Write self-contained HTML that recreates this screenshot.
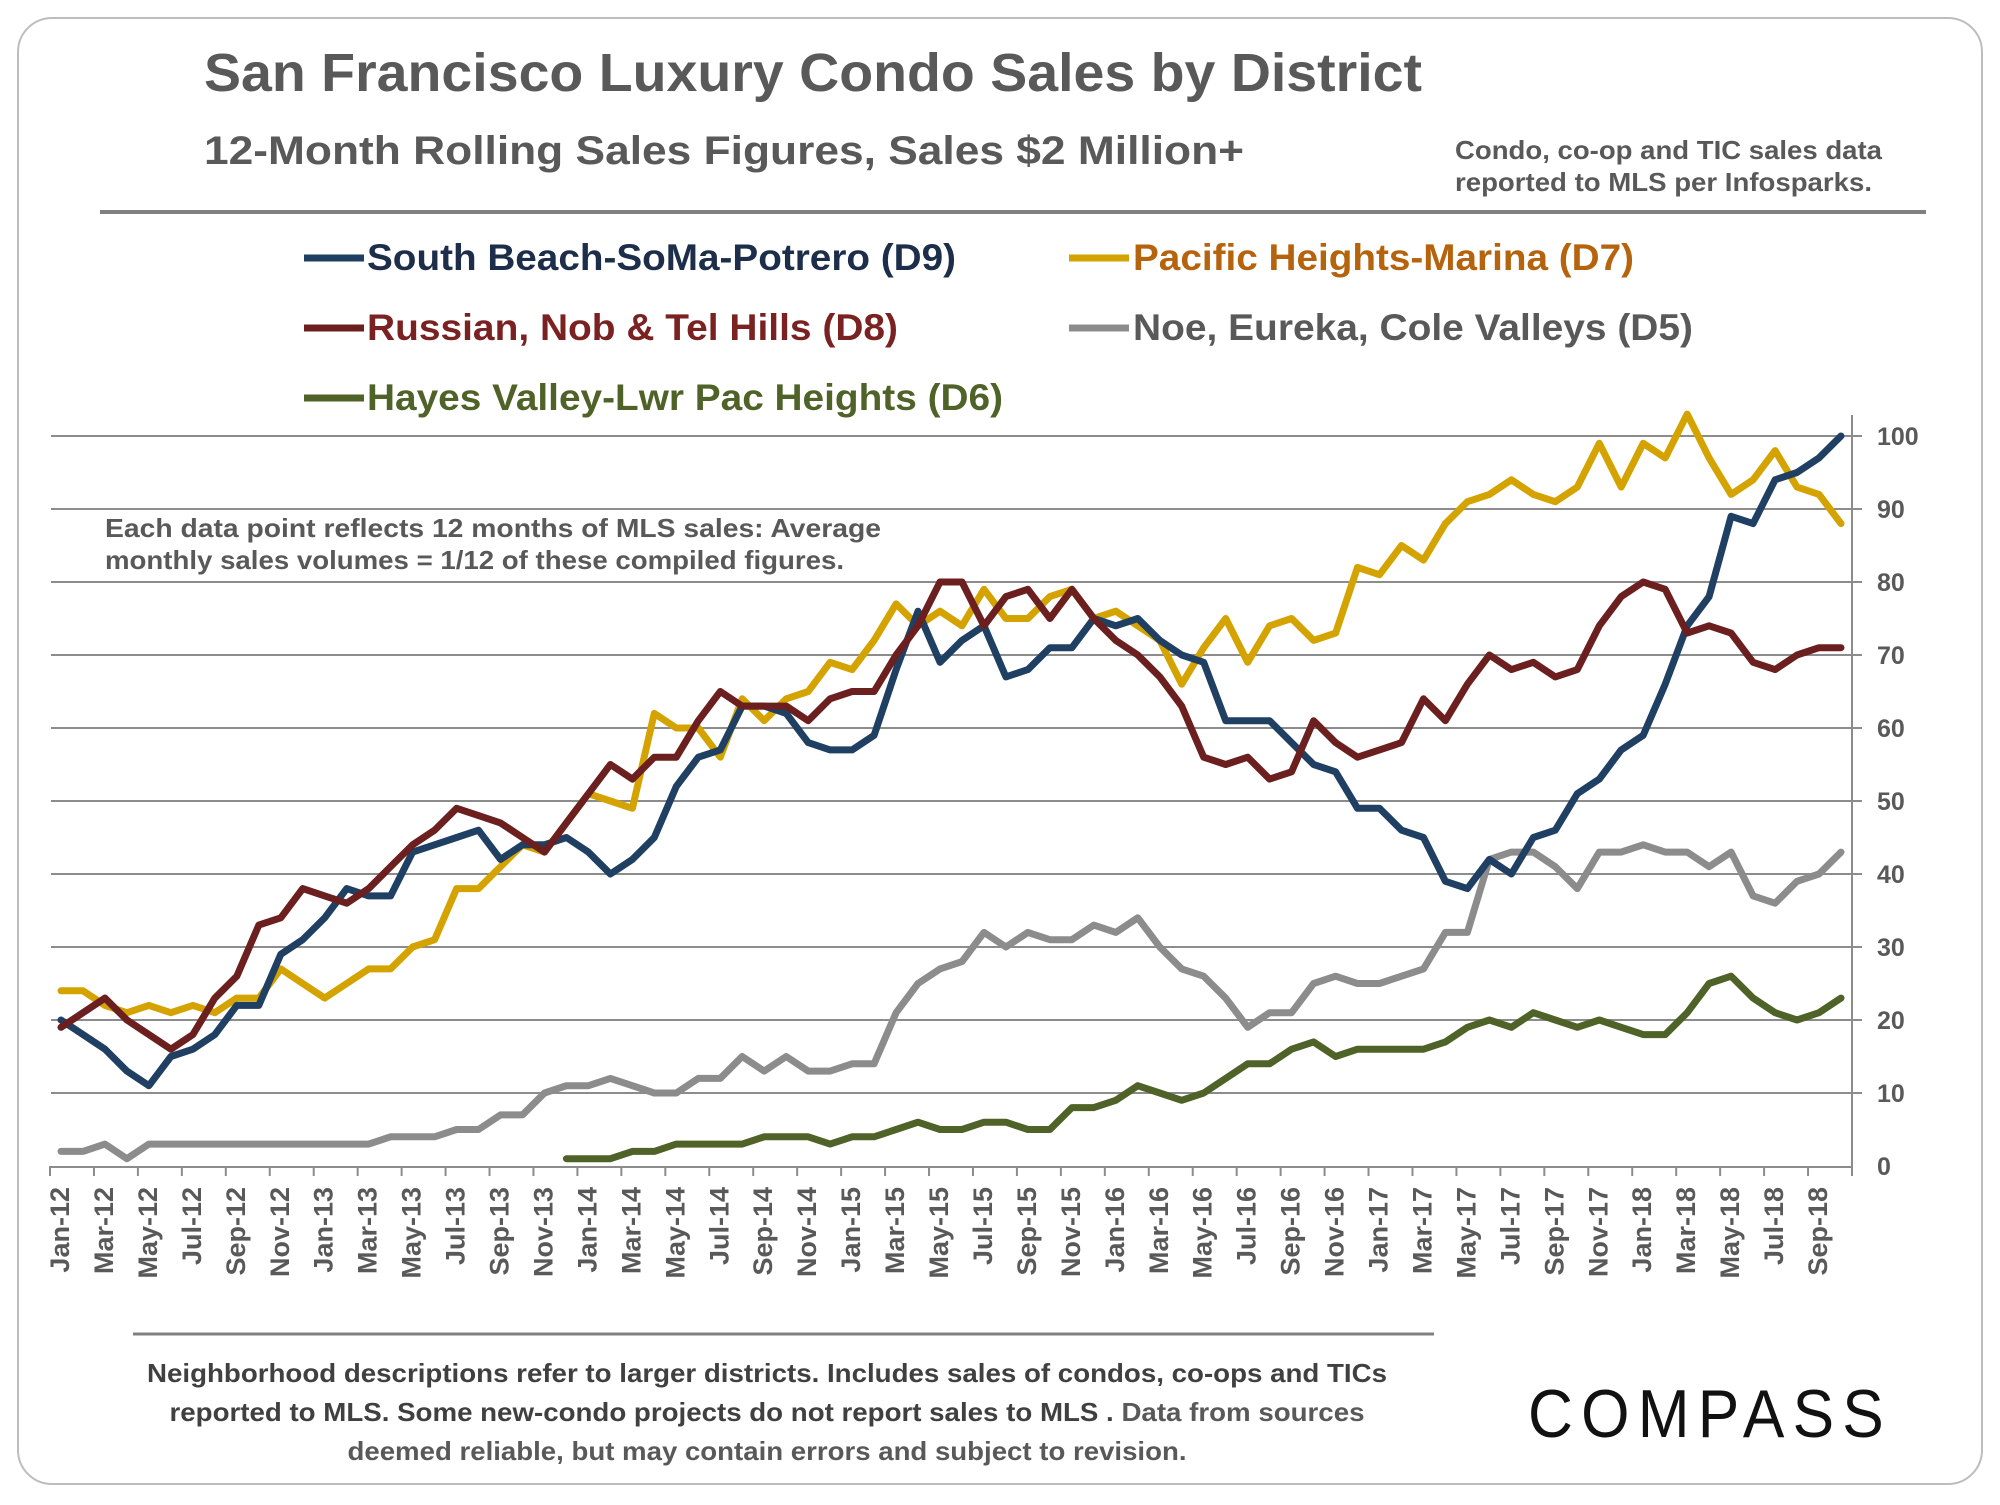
<!DOCTYPE html>
<html><head><meta charset="utf-8">
<style>
html,body{margin:0;padding:0;background:#fff;}
body{width:2000px;height:1500px;overflow:hidden;font-family:"Liberation Sans",Arial,sans-serif;}
svg text{font-family:"Liberation Sans",Arial,sans-serif;}
</style></head>
<body>
<svg id="chart" width="2000" height="1500" viewBox="0 0 2000 1500" xmlns="http://www.w3.org/2000/svg">
<rect x="18" y="18" width="1964" height="1466" rx="34" ry="34" fill="#fff" stroke="#bdbdbd" stroke-width="2"/>
<text x="204" y="91" font-size="54" font-weight="bold" fill="#595959" textLength="1218" lengthAdjust="spacingAndGlyphs">San Francisco Luxury Condo Sales by District</text>
<text x="204" y="164" font-size="40" font-weight="bold" fill="#595959" textLength="1040" lengthAdjust="spacingAndGlyphs">12-Month Rolling Sales Figures, Sales $2 Million+</text>
<text x="1455" y="159" font-size="26" font-weight="bold" fill="#595959" textLength="427" lengthAdjust="spacingAndGlyphs">Condo, co-op and TIC sales data</text>
<text x="1455" y="191" font-size="26" font-weight="bold" fill="#595959" textLength="417" lengthAdjust="spacingAndGlyphs">reported to MLS per Infosparks.</text>
<line x1="100" y1="212" x2="1926" y2="212" stroke="#808080" stroke-width="4"/>

<g>
 <g><line x1="304" y1="258" x2="364" y2="258" stroke="#1f3f63" stroke-width="7"/><text x="367" y="270" font-size="37" font-weight="bold" fill="#1c2e4a" textLength="589" lengthAdjust="spacingAndGlyphs">South Beach-SoMa-Potrero (D9)</text></g>
 <g><line x1="1069" y1="258" x2="1129" y2="258" stroke="#d4a300" stroke-width="7"/><text x="1133" y="270" font-size="37" font-weight="bold" fill="#b5630c" textLength="501" lengthAdjust="spacingAndGlyphs">Pacific Heights-Marina (D7)</text></g>
 <g><line x1="304" y1="328" x2="364" y2="328" stroke="#6b1f1f" stroke-width="7"/><text x="367" y="340" font-size="37" font-weight="bold" fill="#7a2222" textLength="531" lengthAdjust="spacingAndGlyphs">Russian, Nob &amp; Tel Hills (D8)</text></g>
 <g><line x1="1069" y1="328" x2="1129" y2="328" stroke="#8c8c8c" stroke-width="7"/><text x="1133" y="340" font-size="37" font-weight="bold" fill="#595959" textLength="560" lengthAdjust="spacingAndGlyphs">Noe, Eureka, Cole Valleys (D5)</text></g>
 <g><line x1="304" y1="398" x2="364" y2="398" stroke="#4f6228" stroke-width="7"/><text x="367" y="410" font-size="37" font-weight="bold" fill="#4f6228" textLength="636" lengthAdjust="spacingAndGlyphs">Hayes Valley-Lwr Pac Heights (D6)</text></g>
</g>

<g id="grid"></g>
<g id="yticks"></g>
<g id="xticks"></g>
<g id="series"></g>

<text x="105" y="537" font-size="26" font-weight="bold" fill="#595959" textLength="776" lengthAdjust="spacingAndGlyphs">Each data point reflects 12 months of MLS sales:  Average</text>
<text x="105" y="569" font-size="26" font-weight="bold" fill="#595959" textLength="739" lengthAdjust="spacingAndGlyphs">monthly sales volumes = 1/12 of these compiled figures.</text>

<line x1="133" y1="1334" x2="1434" y2="1334" stroke="#808080" stroke-width="3"/>
<g font-size="26" text-anchor="middle">
<text x="767" y="1382" font-weight="bold" fill="#404040" textLength="1240" lengthAdjust="spacingAndGlyphs">Neighborhood descriptions refer to larger districts. Includes sales of condos, co-ops and TICs</text>
<text x="767" y="1421" fill="#404040" textLength="1195" lengthAdjust="spacingAndGlyphs"><tspan font-weight="bold">reported to MLS. Some new-condo projects do not report sales to MLS .</tspan><tspan fill="#595959" font-weight="bold"> Data from sources</tspan></text>
<text x="767" y="1460" font-weight="bold" fill="#595959" textLength="839" lengthAdjust="spacingAndGlyphs">deemed reliable, but may contain errors and subject to revision.</text>
</g>
<text x="1528" y="1437" font-size="68" fill="#111" letter-spacing="9" textLength="364" lengthAdjust="spacingAndGlyphs">COMPASS</text>
</svg>
<script>
const months = ["Jan","Feb","Mar","Apr","May","Jun","Jul","Aug","Sep","Oct","Nov","Dec"];
const yTicks = [0,10,20,30,40,50,60,70,80,90,100];
const d9 = [20,18,16,13,11,15,16,18,22,22,29,31,34,38,37,37,43,44,45,46,42,44,44,45,43,40,42,45,52,56,57,63,63,62,58,57,57,59,68,76,69,72,74,67,68,71,71,75,74,75,72,70,69,61,61,61,58,55,54,49,49,46,45,39,38,42,40,45,46,51,53,57,59,66,74,78,89,88,94,95,97,100];
const d7 = [24,24,22,21,22,21,22,21,23,23,27,25,23,25,27,27,30,31,38,38,41,44,43,47,51,50,49,62,60,60,56,64,61,64,65,69,68,72,77,74,76,74,79,75,75,78,79,75,76,74,72,66,71,75,69,74,75,72,73,82,81,85,83,88,91,92,94,92,91,93,99,93,99,97,103,97,92,94,98,93,92,88];
const d8 = [19,21,23,20,18,16,18,23,26,33,34,38,37,36,38,41,44,46,49,48,47,45,43,47,51,55,53,56,56,61,65,63,63,63,61,64,65,65,70,74,80,80,74,78,79,75,79,75,72,70,67,63,56,55,56,53,54,61,58,56,57,58,64,61,66,70,68,69,67,68,74,78,80,79,73,74,73,69,68,70,71,71];
const d5 = [2,2,3,1,3,3,3,3,3,3,3,3,3,3,3,4,4,4,5,5,7,7,10,11,11,12,11,10,10,12,12,15,13,15,13,13,14,14,21,25,27,28,32,30,32,31,31,33,32,34,30,27,26,23,19,21,21,25,26,25,25,26,27,32,32,42,43,43,41,38,43,43,44,43,43,41,43,37,36,39,40,43];
const d6 = [null,null,null,null,null,null,null,null,null,null,null,null,null,null,null,null,null,null,null,null,null,null,null,1,1,1,2,2,3,3,3,3,4,4,4,3,4,4,5,6,5,5,6,6,5,5,8,8,9,11,10,9,10,12,14,14,16,17,15,16,16,16,16,17,19,20,19,21,20,19,20,19,18,18,21,25,26,23,21,20,21,23];

const NS="http://www.w3.org/2000/svg";
const X0=61, X1=1841, Y0=1166, Y100=436, N=82;
const xAt = i => X0 + (X1-X0)*i/(N-1);
const yAt = v => Y0 - (Y0-Y100)*v/100;
function mk(tag, attrs, parent){const e=document.createElementNS(NS,tag);for(const k in attrs)e.setAttribute(k,attrs[k]);parent.appendChild(e);return e;}

const grid=document.getElementById('grid'), yt=document.getElementById('yticks'), xt=document.getElementById('xticks'), ser=document.getElementById('series');
yTicks.forEach(v=>{
  if(v>0){const g=mk('line',{x1:51,x2:1862,y1:yAt(v),y2:yAt(v),stroke:'#8c8c8c','stroke-width':2},grid);
  
  }
  const t=mk('text',{x:1877,y:yAt(v)+9,'font-size':25,'font-weight':'bold',fill:'#595959'},yt);
  t.textContent=v;
  
  
});
mk('line',{x1:1852,x2:1852,y1:415,y2:1176,stroke:'#8c8c8c','stroke-width':2},yt);
mk('line',{x1:50,x2:1852,y1:Y0+1,y2:Y0+1,stroke:'#8c8c8c','stroke-width':2},xt);
for(let i=0;i<N;i+=2){
  const tx=xAt(i-0.5);
  mk('line',{x1:tx,x2:tx,y1:Y0,y2:Y0+10,stroke:'#8c8c8c','stroke-width':2},xt);
  const lbl=months[i%12]+'-'+(12+Math.floor(i/12));
  const cx=xAt(i)-2, ty=1187;
  const t=mk('text',{x:0,y:0,'font-size':27,'font-weight':'bold',fill:'#595959','text-anchor':'end',transform:`translate(${cx+10},${ty}) rotate(-90)`},xt);
  t.textContent=lbl;
  
  
}
function draw(arr,color,name){
  let d='';let started=false;
  arr.forEach((v,i)=>{if(v===null)return;d+=(started?'L':'M')+xAt(i).toFixed(1)+','+yAt(v).toFixed(1);started=true;});
  const p=mk('path',{d:d,fill:'none',stroke:color,'stroke-width':7,'stroke-linejoin':'round','stroke-linecap':'round'},ser);
  
  
}
draw(d6,'#4f6228','line-d6');
draw(d5,'#8c8c8c','line-d5');
draw(d7,'#d4a300','line-d7');
draw(d9,'#1f3f63','line-d9');
draw(d8,'#6b1f1f','line-d8');
</script>
</body></html>
